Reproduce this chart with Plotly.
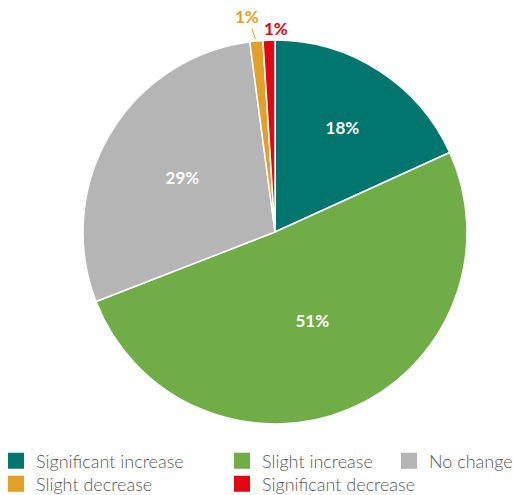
import math
import plotly.graph_objects as go

# ── data ─────────────────────────────────────────────────────────────
categories = [
    "Significant increase",
    "Slight increase",
    "No change",
    "Slight decrease",
    "Significant decrease",
]
shares = [18.2, 50.9, 28.8, 1.1, 1.0]

COLORS = ["#00766E", "#70AD47", "#B5B5B5", "#E2A126", "#E30613"]
TEXT_POS = ["inside", "inside", "inside", "none", "none"]

# legend slots (row, column) like the original two-row, three-column key
LEGEND_SLOT = [(0, 0), (0, 1), (0, 2), (1, 0), (1, 1)]

W, H = 513, 495
DOM_X = [0.1618, 0.9103]
DOM_Y = [0.1434, 0.9192]
LABEL_FONT = dict(family="Lato, sans-serif", size=17, weight="bold")

fig = go.Figure(go.Pie(
    labels=categories,
    values=shares,
    sort=False,
    direction="clockwise",
    rotation=0,
    marker=dict(colors=COLORS, line=dict(color="white", width=1.5)),
    texttemplate="%{percent:.0%}",
    textposition=TEXT_POS,
    insidetextorientation="horizontal",
    textfont=dict(color="white", **LABEL_FONT),
    domain=dict(x=DOM_X, y=DOM_Y),
    hoverinfo="label+percent",
    showlegend=False,
))

# small slices: labels outside the rim, like the original
total = sum(shares)
cx, cy = sum(DOM_X) / 2, sum(DOM_Y) / 2
r_px = min((DOM_X[1] - DOM_X[0]) * W, (DOM_Y[1] - DOM_Y[0]) * H) / 2
start = 0.0
for i, v in enumerate(shares):
    mid = 2 * math.pi * (start + v / 2) / total
    start += v
    if TEXT_POS[i] != "none":
        continue
    tip_x = cx + r_px * math.sin(mid) / W
    tip_y = cy + r_px * math.cos(mid) / H
    label = f"{round(100 * v / total)}%"
    if i == 3:   # slight decrease: lifted with a leader line
        fig.add_annotation(
            x=tip_x, y=tip_y, xref="paper", yref="paper", text=label,
            showarrow=True, arrowhead=0, arrowwidth=1, arrowcolor=COLORS[i],
            ax=-9, ay=-24, standoff=2,
            font=dict(color=COLORS[i], **LABEL_FONT),
        )
    else:
        fig.add_annotation(
            x=tip_x, y=tip_y, xref="paper", yref="paper", text=label,
            showarrow=False, xshift=7, yshift=12,
            xanchor="center", yanchor="middle",
            font=dict(color=COLORS[i], **LABEL_FONT),
        )

# legend entries (square swatches), one legend per slot
ROW_Y = [0.106, 0.0596]
COL_X = [(-4 / W, "left"), (222 / W, "left"), (1 + 5 / W, "right")]
legends = {}
for k, (name, color, (row, col)) in enumerate(zip(categories, COLORS, LEGEND_SLOT)):
    leg = "legend" if k == 0 else f"legend{k + 1}"
    fig.add_trace(go.Scatter(
        x=[None], y=[None], mode="markers", name=name,
        marker=dict(symbol="square", size=16, color=color),
        legend=leg, hoverinfo="skip",
    ))
    legends[leg] = dict(
        x=COL_X[col][0], xanchor=COL_X[col][1], y=ROW_Y[row], yanchor="top",
        orientation="v",
        font=dict(family="Lato, sans-serif", size=18, color="#595959", weight=300),
        bgcolor="rgba(0,0,0,0)",
    )

fig.update_layout(
    width=W,
    height=H,
    paper_bgcolor="white",
    plot_bgcolor="white",
    margin=dict(l=0, r=0, t=0, b=0, autoexpand=False),
    font=dict(family="Lato, sans-serif", color="#595959", size=16),
    xaxis=dict(visible=False),
    yaxis=dict(visible=False),
    **legends,
)

# drop the default 8px page margin so the figure fills the window exactly
fig.write_html(
    "out.html",
    config={"displayModeBar": False},
    post_script="document.body.style.margin = '0';",
)
